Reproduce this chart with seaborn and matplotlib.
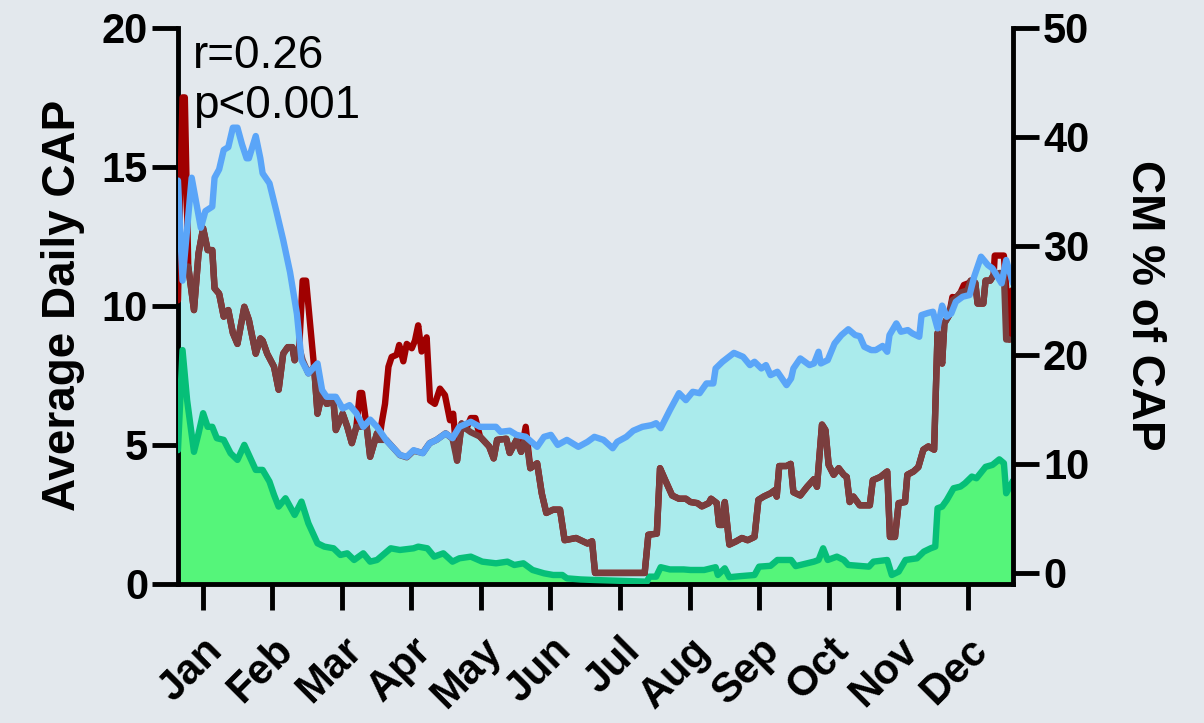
import matplotlib
matplotlib.use("Agg")
import matplotlib.pyplot as plt
import seaborn as sns
import numpy as np

# ---------------------------------------------------------------- data
MONTHS = ["Jan", "Feb", "Mar", "Apr", "May", "Jun",
          "Jul", "Aug", "Sep", "Oct", "Nov", "Dec"]

# Average daily CAP, all cases (left axis)
cap_day = [0, 2, 6, 10, 12, 15, 16, 18, 20, 22, 24, 26, 28, 30, 31, 34, 36, 37,
           40, 43, 46, 49, 52, 54, 57, 61, 63, 65, 69, 72, 75, 78, 81, 84, 87,
           91, 97, 100, 103, 107, 110, 113, 117, 120, 123, 128, 132, 139, 141,
           145, 148, 152, 157, 160, 163, 166, 170, 175, 179, 182, 186, 190, 192,
           196, 199, 203, 207, 209, 211, 215, 219, 222, 225, 228, 231, 234, 235,
           238, 243, 247, 250, 252, 255, 257, 259, 262, 266, 268, 269, 272, 276,
           278, 280, 281, 284, 287, 290, 293, 296, 298, 300, 303, 305, 308, 310,
           311, 314, 316, 319, 321, 324, 325, 328, 330, 332, 334, 336, 338, 340,
           343, 346, 348, 351, 354, 356, 360, 362, 365]
cap_avg = [14.5, 10.9, 14.6, 12.8, 13.4, 13.56, 14.6, 14.9, 15.6, 15.7, 16.4,
           16.4, 15.8, 15.3, 15.3, 16.1, 15.3, 14.76, 14.4, 13.4, 12.36, 11.2,
           9.7, 8.04, 7.56, 7.92, 6.96, 6.72, 6.72, 6.3, 6.42, 6.13, 5.64, 5.9,
           5.64, 5.16, 4.63, 4.56, 4.8, 4.69, 5.05, 5.17, 5.4, 5.23, 5.64, 5.82,
           5.64, 5.64, 5.46, 5.5, 5.35, 5.28, 4.92, 5.28, 5.35, 4.99, 5.17, 4.92,
           5.1, 5.28, 5.17, 4.87, 5.1, 5.28, 5.5, 5.64, 5.7, 5.77, 5.59, 6.24,
           6.85, 6.6, 6.9, 6.85, 7.2, 7.2, 7.74, 7.98, 8.3, 8.16, 7.86, 7.98,
           7.74, 7.86, 7.5, 7.62, 7.14, 7.38, 7.74, 8.1, 7.86, 7.92, 8.34, 7.92,
           8.04, 8.64, 8.94, 9.15, 8.94, 8.9, 8.52, 8.4, 8.4, 8.55, 8.34, 8.94,
           9.36, 9.06, 9.12, 9.0, 8.88, 9.66, 9.74, 9.78, 9.18, 10.0, 9.6, 9.72,
           10.14, 10.32, 10.38, 11.04, 11.76, 11.46, 11.34, 10.8, 11.64, 10.8]

# Average daily CAP, CM cases (left axis)
cm_day = [0, 2, 4, 7, 9, 11, 13, 15, 17, 20, 23, 26, 29, 31, 34, 37, 40, 42,
          44, 47, 51, 54, 57, 61, 64, 68, 71, 74, 77, 81, 84, 87, 93, 97, 103,
          105, 109, 112, 116, 120, 123, 128, 133, 139, 144, 147, 151, 155, 160,
          164, 168, 170, 176, 182, 205, 206, 209, 211, 215, 221, 224, 230, 235,
          236, 239, 241, 246, 252, 254, 259, 262, 268, 270, 275, 278, 280, 282,
          284, 288, 291, 293, 302, 304, 310, 312, 315, 318, 323, 326, 329, 331,
          332, 334, 336, 339, 342, 344, 347, 349, 353, 356, 359, 361, 362, 365]
cm_avg = [4.8, 8.4, 6.6, 4.74, 5.4, 6.13, 5.64, 5.64, 5.23, 5.17, 4.69, 4.45,
          4.99, 4.63, 4.09, 4.09, 3.67, 3.19, 2.77, 3.07, 2.47, 2.95, 2.17, 1.45,
          1.33, 1.27, 1.03, 1.09, 0.85, 1.09, 0.79, 0.85, 1.27, 1.21, 1.27, 1.33,
          1.27, 0.97, 1.09, 0.79, 0.91, 0.97, 0.79, 0.73, 0.79, 0.67, 0.73, 0.49,
          0.37, 0.31, 0.31, 0.19, 0.15, 0.13, 0.07, 0.25, 0.25, 0.59, 0.51, 0.51,
          0.49, 0.49, 0.59, 0.31, 0.55, 0.23, 0.27, 0.31, 0.61, 0.64, 0.85, 0.85,
          0.63, 0.73, 0.79, 0.85, 1.27, 0.85, 0.97, 0.85, 0.67, 0.61, 0.79, 0.85,
          0.31, 0.43, 0.85, 0.91, 1.15, 1.27, 1.33, 2.71, 2.77, 3.0, 3.43, 3.49,
          3.61, 3.85, 3.79, 4.2, 4.27, 4.47, 4.33, 3.25, 3.7]

# CM % of CAP (right axis)
pct_day = [4.5, 7, 9, 11, 13, 15, 16, 18, 20, 22, 24, 26, 29, 31, 34, 36, 37,
           39, 42, 44, 46, 48, 50, 51, 53, 54.5, 57, 59.5, 61, 63, 65, 68, 69,
           72, 74, 76, 78, 82.5, 84, 87, 88, 91, 97, 100, 103, 107, 110, 113,
           117, 120, 122, 124, 126, 128, 132, 136, 138, 139.5, 143.5, 145, 148,
           150, 152, 154, 157, 159, 161, 164, 167, 169, 174, 179, 181, 182.3,
           204, 205.6, 209.3, 210.7, 213, 216, 219, 222, 224, 227, 229, 232,
           233, 235.5, 236.5, 238, 239, 241, 244, 246.5, 249, 252, 253.7, 256,
           259, 261, 261.7, 262.8, 266, 267.8, 269, 272, 275, 278, 279.3, 281.5,
           283, 284.4, 286.6, 288.8, 291, 292.3, 293.6, 295.2, 298, 302.4,
           303.7, 307, 310, 311.2, 313.4, 315, 317.8, 318.8, 321.5, 323.6,
           325.8, 328, 330.5, 332, 334, 335, 337, 338.5, 340, 342, 345, 346.5,
           348.5, 349.5, 352, 353, 355, 356.5, 359, 361, 362, 363.5]
pct_val = [28.1, 24.1, 29.3, 31.6, 29.6, 29.6, 26.1, 25.6, 23.5, 24.1, 22.0,
           21.0, 24.4, 23.2, 20.1, 21.5, 21.3, 20.1, 18.9, 16.8, 20.1, 20.7,
           20.7, 19.5, 20.7, 19.5, 18.3, 18.9, 14.6, 16.5, 15.5, 15.7, 13.1,
           14.6, 13.4, 11.9, 13.4, 13.4, 10.65, 12.8, 12.2, 12.2, 10.8, 10.6,
           11.2, 11.0, 11.9, 12.2, 12.8, 12.3, 10.3, 13.7, 13.2, 12.9, 12.5,
           11.6, 10.5, 12.2, 12.3, 11.0, 12.2, 11.1, 12.5, 9.6, 10.05, 7.3, 5.5,
           5.8, 5.8, 3.0, 3.2, 2.7, 2.9, 0.0, 0.0, 3.5, 3.6, 9.6, 8.5, 7.1, 6.8,
           6.8, 6.5, 6.4, 6.1, 6.4, 6.8, 6.4, 4.4, 4.4, 6.5, 2.6, 2.9, 3.2, 3.0,
           3.3, 6.7, 7.0, 7.3, 7.6, 7.0, 9.8, 9.8, 10.0, 7.4, 7.1, 7.9, 8.6, 7.9,
           13.6, 13.1, 9.9, 9.0, 9.6, 9.0, 8.8, 6.5, 7.0, 6.2, 6.2, 8.5, 8.8,
           9.3, 3.3, 3.3, 6.4, 6.5, 9.0, 9.3, 9.7, 11.3, 11.6, 11.3, 22.0, 19.2,
           22.9, 23.6, 25.0, 25.2, 25.7, 25.9, 26.8, 26.6, 24.7, 24.7, 26.8,
           26.8, 27.3, 27.5, 27.5, 21.4, 21.4]

# Unadjusted CM % of CAP: stretches where it departs from the adjusted series
raw_jan_day = [0, 2, 3, 4.5]
raw_jan_val = [25.0, 43.6, 43.6, 28.1]
raw_feb_day = [53, 54.5, 56, 58, 59.5, 61]
raw_feb_val = [20.7, 26.8, 26.8, 22.3, 18.9, 14.6]
raw_mar_day = [78, 79.5, 80.5, 82.5]
raw_mar_val = [13.4, 16.5, 16.5, 13.4]
raw_apr_day = [88, 89, 90.5, 92, 93.4, 95.6, 96.7, 98.5, 100, 102.2, 103.6,
               105, 106.5, 108.7, 110.2, 112.3, 114.5, 116.7, 118.9, 120.3, 122]
raw_apr_val = [12.2, 13.7, 15.5, 18.9, 19.8, 20.0, 20.9, 19.4, 21.0, 20.6,
               21.3, 22.7, 20.3, 21.6, 15.8, 15.5, 16.9, 16.3, 14.0, 14.6, 10.3]
raw_may_day = [126, 128, 130, 132]
raw_may_val = [13.2, 14.2, 14.2, 12.5]
raw_jun_day = [150, 152, 154]
raw_jun_val = [11.1, 13.4, 9.6]
raw_dec1_day = [337, 338.5, 340, 342, 343.5, 346, 346.5]
raw_dec1_val = [23.6, 25.3, 25.2, 25.7, 26.4, 26.6, 26.8]
raw_dec2_day = [356.5, 357, 361, 363.5, 364.5]
raw_dec2_val = [27.3, 29.1, 29.1, 21.4, 25.9]

# ---------------------------------------------------------------- build the unadjusted series
raw_parts = [(raw_jan_day, raw_jan_val), (raw_feb_day, raw_feb_val),
             (raw_mar_day, raw_mar_val), (raw_apr_day, raw_apr_val),
             (raw_may_day, raw_may_val), (raw_jun_day, raw_jun_val),
             (raw_dec1_day, raw_dec1_val), (raw_dec2_day, raw_dec2_val)]
pts = [(d, v) for d, v in zip(pct_day, pct_val)
       if not any(p[0][0] <= d <= p[0][-1] for p in raw_parts)]
for pd_, pv_ in raw_parts:
    pts.extend(zip(pd_, pv_))
pts.sort()
raw_day = [p[0] for p in pts]
raw_val = [p[1] for p in pts]

# ---------------------------------------------------------------- style
BG = "#E3E8ED"
CYAN = "#AAEBEC"
BLUE = "#5AA5F8"
GREEN_FILL = "#55F57A"
GREEN_LINE = "#06BF78"
RED = "#A00000"
BROWN = "#7A3E3E"
LW = 4.6
AX_LW = 3.5

sns.set_theme(style="ticks")
plt.rcParams["font.family"] = ["Liberation Sans", "DejaVu Sans"]
plt.rcParams["font.weight"] = "bold"
plt.rcParams["axes.labelweight"] = "bold"

fig = plt.figure(figsize=(12.04, 7.23), dpi=100, facecolor=BG)
ax = fig.add_axes([0.1478, 0.1928, 0.6936, 0.7690])
ax2 = ax.twinx()
ax.set_facecolor(BG)
ax2.patch.set_visible(False)

# filled areas
ax.fill_between(cap_day, 0, cap_avg, color=CYAN, lw=0, zorder=1)
ax.fill_between(cm_day, 0, cm_avg, color=GREEN_FILL, lw=0, zorder=2)

# lines; the percentage series use the right-hand scale
sns.lineplot(x=cm_day, y=cm_avg, ax=ax, color=GREEN_LINE, linewidth=LW,
             zorder=3)
sns.lineplot(x=raw_day, y=raw_val, ax=ax, color=RED, linewidth=LW, zorder=4,
             transform=ax2.transData)
sns.lineplot(x=pct_day, y=pct_val, ax=ax, color=BROWN, linewidth=LW,
             zorder=5, transform=ax2.transData)
sns.lineplot(x=cap_day, y=cap_avg, ax=ax, color=BLUE, linewidth=LW, zorder=6)

ax.set_xlim(0, 365)
ax.set_ylim(0, 20)
ax2.set_ylim(-0.98, 50)

# axes, ticks, labels
for s in ["top", "right"]:
    ax.spines[s].set_visible(False)
for s in ["top", "left", "bottom"]:
    ax2.spines[s].set_visible(False)
for sp in [ax.spines["left"], ax.spines["bottom"], ax2.spines["right"]]:
    sp.set_linewidth(AX_LW)
    sp.set_color("black")

month_ticks = 10.8 + 30.4 * np.arange(12)
ax.set_xticks(month_ticks)
ax.set_xticklabels(MONTHS, rotation=45, ha="right", va="top",
                   rotation_mode="anchor", fontsize=30, fontweight="bold")
ax.set_yticks([0, 5, 10, 15, 20])
ax2.set_yticks([0, 10, 20, 30, 40, 50])

ax.tick_params(axis="x", length=18.5, width=AX_LW, pad=15, colors="black")
ax.tick_params(axis="y", length=18.5, width=AX_LW, pad=3, labelsize=30,
               colors="black")
ax2.tick_params(axis="y", length=18.5, width=AX_LW, pad=3, labelsize=30,
                colors="black")
for lbl in ax.get_yticklabels() + ax2.get_yticklabels():
    lbl.set_fontweight("bold")

ax.set_xlabel("")
ax.set_ylabel("Average Daily CAP", fontsize=33, fontweight="bold",
              labelpad=12, color="black")
ax2.set_ylabel("CM % of CAP", fontsize=33, fontweight="bold", rotation=270,
               va="bottom", labelpad=24, color="black")

ax.text(0.018, 0.9273, "r=0.26", transform=ax.transAxes, fontsize=33,
        fontweight="normal", va="baseline", ha="left", color="black")
ax.text(0.018, 0.8374, "p<0.001", transform=ax.transAxes, fontsize=33,
        fontweight="normal", va="baseline", ha="left", color="black")

fig.savefig("out.png", dpi=100, facecolor=BG)
